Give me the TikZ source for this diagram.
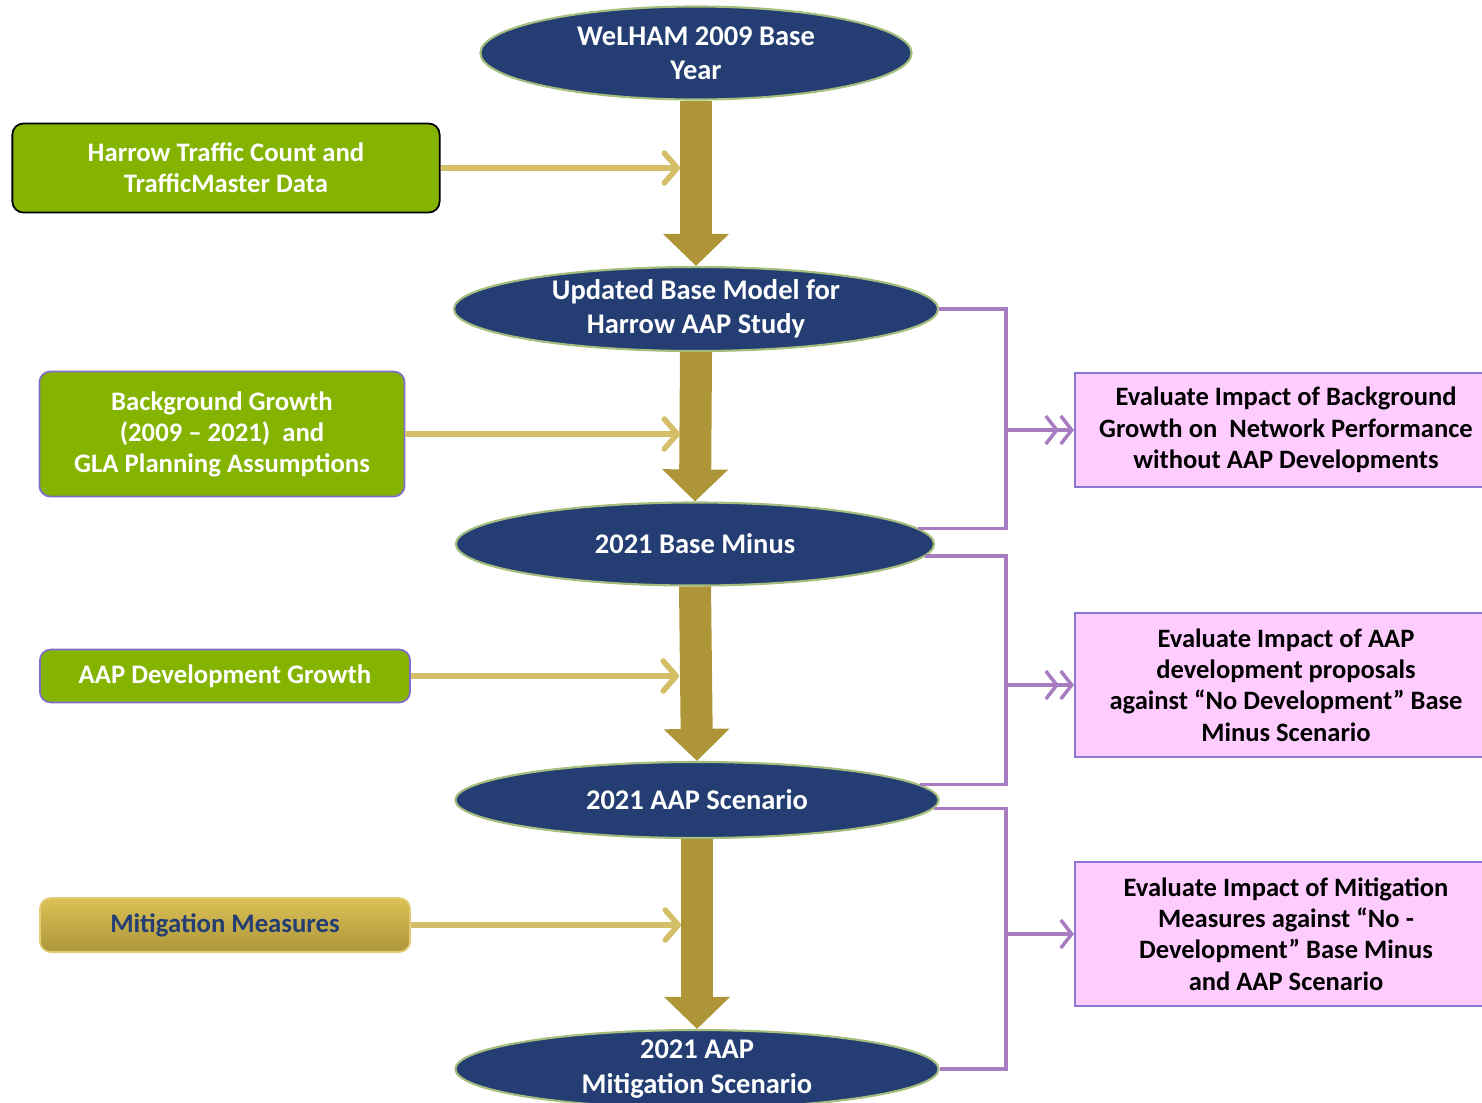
\documentclass[tikz,border=0pt]{standalone}
\usepackage{fontspec}
\setmainfont{Carlito}
\usetikzlibrary{arrows.meta,shapes.geometric}
\definecolor{StageClr}{RGB}{36,62,116}
\definecolor{StageEdge}{RGB}{165,190,125}
\definecolor{FlowClr}{RGB}{174,150,56}
\definecolor{FeedClr}{RGB}{212,190,104}
\definecolor{InputClr}{RGB}{132,180,0}
\definecolor{InputEdge}{RGB}{128,110,200}
\definecolor{MitTop}{RGB}{219,193,86}
\definecolor{MitBot}{RGB}{174,150,58}
\definecolor{MitEdge}{RGB}{225,205,120}
\definecolor{EvalClr}{RGB}{255,204,255}
\definecolor{EvalEdge}{RGB}{140,120,210}
\definecolor{LinkClr}{RGB}{168,124,192}

\tikzset{
  stage/.style={ellipse,fill=StageClr,draw=StageEdge,line width=0.6pt,inner sep=0pt},
  stagetext/.style={text=white,align=center,font=\bfseries\fontsize{8.1}{9.7}\selectfont},
  input/.style={rectangle,rounded corners=0.11cm,fill=InputClr,draw=InputEdge,line width=0.5pt,
    text=white,align=center,inner sep=0pt,font=\bfseries\fontsize{7.6}{8.8}\selectfont},
  evalbox/.style={rectangle,fill=EvalClr,draw=EvalEdge,line width=0.5pt,align=center,
    inner sep=0pt,minimum width=4.22cm,font=\bfseries\fontsize{7.55}{8.9}\selectfont},
  flow/.style={FlowClr,line width=0.32cm,-{Triangle[length=0.32cm,width=0.64cm]}},
  feed/.style={FeedClr,line width=0.055cm,shorten >=0.16cm,
    -{Straight Barb[length=0.13cm,width=0.3cm,round]}},
  link/.style={LinkClr,line width=0.035cm},
  linkone/.style={link,-{Straight Barb[length=0.11cm,width=0.28cm]}},
  linktwo/.style={link,-{Straight Barb[length=0.11cm,width=0.28cm]Straight Barb[length=0.11cm,width=0.28cm]}}
}

\begin{document}
\begin{tikzpicture}[x=0.01cm,y=-0.01cm]
\useasboundingbox (0,0) rectangle (1482,1102);

\node[stage,minimum width=4.31cm,minimum height=0.93cm,
  label={[stagetext]center:{WeLHAM 2009 Base\\Year}}] (e1) at (696,53) {};
\node[stage,minimum width=4.84cm,minimum height=0.84cm,
  label={[stagetext]center:{Updated Base Model for\\Harrow AAP Study}}] (e2) at (696,309) {};
\node[stage,minimum width=4.78cm,minimum height=0.83cm,
  label={[stagetext]center:{2021 Base Minus}}] (e3) at (695,544) {};
\node[stage,minimum width=4.83cm,minimum height=0.76cm,
  label={[stagetext]center:{2021 AAP Scenario}}] (e4) at (697,800) {};
\node[stage,minimum width=4.83cm,minimum height=0.78cm,
  label={[stagetext]center:{2021 AAP\\Mitigation Scenario}}] (e5) at (697,1069) {};

\node[input,draw=black,minimum width=4.27cm,minimum height=0.89cm] (b1) at (226,168)
  {Harrow Traffic Count and\\TrafficMaster Data};
\node[input,minimum width=3.65cm,minimum height=1.25cm] (b2) at (222,434)
  {Background Growth\\(2009 -- 2021)\ \ and\\GLA Planning Assumptions};
\node[input,minimum width=3.7cm,minimum height=0.53cm] (b3) at (225,676)
  {AAP Development Growth};
\node[input,top color=MitTop,bottom color=MitBot,draw=MitEdge,text=StageClr,
  minimum width=3.7cm,minimum height=0.54cm] (b4) at (225,925)
  {Mitigation Measures};

\node[evalbox,minimum height=1.14cm] (r1) at (1286,430)
  {Evaluate Impact of Background\\Growth on\ \ Network Performance\\without AAP Developments};
\node[evalbox,minimum height=1.44cm] (r2) at (1286,685)
  {Evaluate Impact of AAP\\development proposals\\against “No Development” Base\\Minus Scenario};
\node[evalbox,minimum height=1.44cm] (r3) at (1286,934)
  {Evaluate Impact of Mitigation\\Measures against “No -\\Development” Base Minus\\and AAP Scenario};

\coordinate (spine) at (1006,0);

\draw[flow] (e1.south) -- (e2.north);
\draw[flow] (e2.south) -- (e3.north);
\draw[flow] (e3.south) -- (e4.north);
\draw[flow] (e4.south) -- (e5.north);

\draw[feed] (b1.east) -- (b1.east -| e1.south);
\draw[feed] (b2.east) -- (b2.east -| e2.south);
\draw[feed] (b3.east) -- (b3.east -| e3.south);
\draw[feed] (b4.east) -- (b4.east -| e4.south);

\draw[link] (e2.east) -| (spine |- r1.west) |- (e3.4);
\draw[link] (e3.-3) -| (spine |- r2.west) |- (e4.4);
\draw[link] (e4.-2) -| (spine |- r3.west) |- (e5.east);

\draw[linktwo] (spine |- r1.west) -- (r1.west);
\draw[linktwo] (spine |- r2.west) -- (r2.west);
\draw[linkone] (spine |- r3.west) -- (r3.west);

\end{tikzpicture}
\end{document}
